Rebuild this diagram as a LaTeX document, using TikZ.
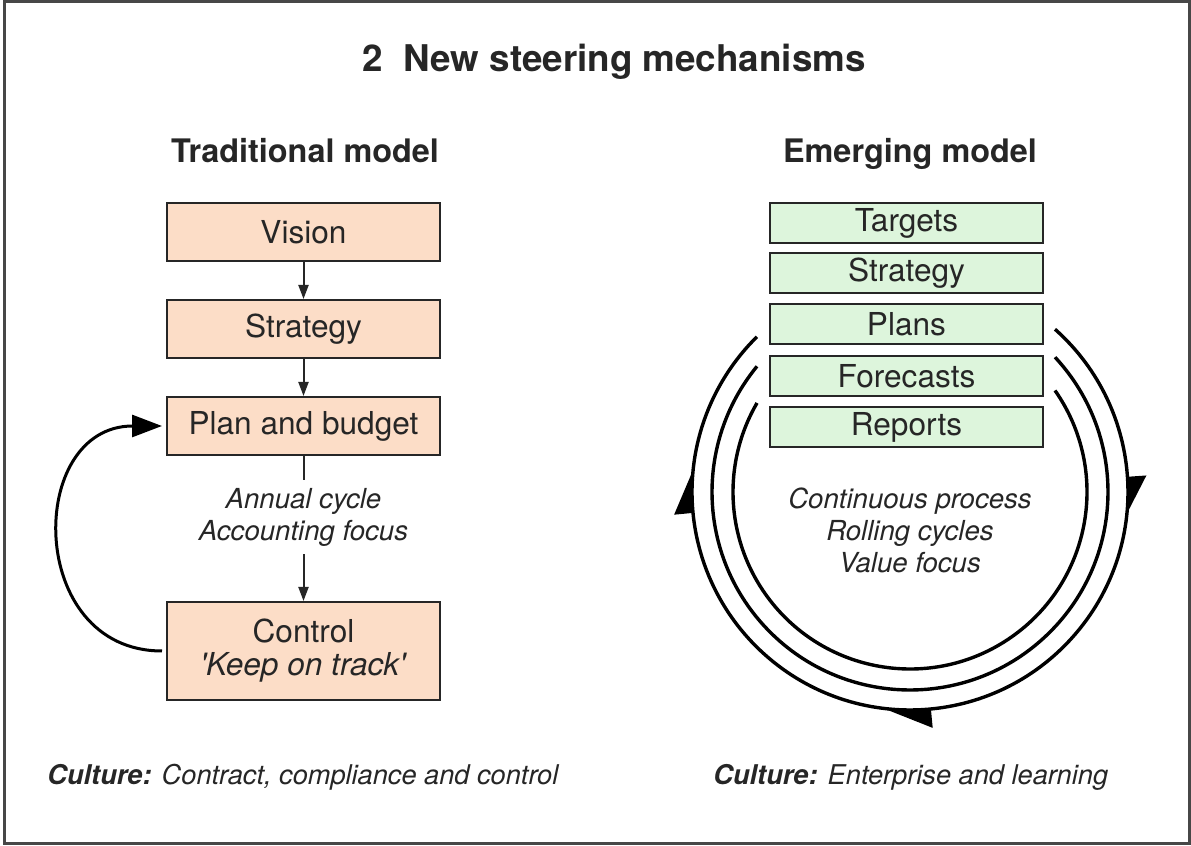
\documentclass[tikz,border=0pt]{standalone}
\usepackage{fontspec}
\setmainfont{TeX Gyre Heros}
\usetikzlibrary{arrows.meta}
\usepackage{xcolor}
\definecolor{peach}{HTML}{FCDDC7}
\definecolor{mint}{HTML}{DDF5DC}
\definecolor{ink}{HTML}{262626}

\begin{document}
\begin{tikzpicture}[x=0.5pt, y=0.5pt,
  oldbox/.style={draw=ink, line width=1pt, fill=peach, minimum width=136.5pt, minimum height=29pt, inner sep=0pt, text=ink, font=\fontsize{15.8}{17}\selectfont},
  newbox/.style={draw=ink, line width=1pt, fill=mint, minimum width=136.5pt, minimum height=20pt, inner sep=0pt, text=ink, font=\fontsize{15.8}{17}\selectfont},
  note/.style={align=center, inner sep=0pt, text=ink, font=\fontsize{13.8}{16}\selectfont\itshape},
  heading/.style={anchor=base, text=ink, font=\fontsize{16.2}{18}\selectfont\bfseries},
  culture/.style={anchor=base west, inner sep=0pt, text=ink, font=\fontsize{13.6}{16}\selectfont\itshape},
  flow/.style={-{Triangle[length=7pt,width=5pt]}, line width=1pt, ink},
  loopline/.style={line width=1.7pt, black}
]

\useasboundingbox (0,0) rectangle (1191,846);
\draw[line width=1.5pt, ink!85] (4.5,2) rectangle (1189,844);

\node[anchor=base, text=ink, font=\fontsize{18.4}{20}\selectfont\bfseries] (title) at (614,774) {2~~New steering mechanisms};

% traditional model
\node[heading] (trad) at (305,683) {Traditional model};
\node[oldbox] (vision) at (303.5,614) {Vision};
\node[oldbox] (strat) at (303.5,517) {Strategy};
\node[oldbox] (plan) at (303.5,420) {Plan and budget};
\node[note, minimum height=37pt] (cycle) at (303.5,329) {Annual cycle\\Accounting focus};
\node[oldbox, minimum height=49pt, align=center, font=\fontsize{15.8}{16.5}\selectfont] (ctrl) at (303.5,195)
  {Control\\\textit{\textquotesingle Keep on track\textquotesingle}};

\draw[flow] (vision) -- (strat);
\draw[flow] (strat) -- (plan);
\draw[line width=1pt, ink] (plan) -- (cycle);
\draw[flow] (cycle) -- (ctrl);
\draw[line width=1.5pt, -{Triangle[length=15pt,width=11pt]}, shorten <=2pt, shorten >=2pt]
  (ctrl.west) to[out=180, in=180, looseness=1.6] (plan.west);

\node[culture] (cultL) at (47,61) {\textbf{Culture:} Contract, compliance and control};

% emerging model
\node[heading] (emerg) at (910,683) {Emerging model};
\node[newbox] (targets) at (906.5,623) {Targets};
\node[newbox] (strat2) at (906.5,572.5) {Strategy};
\node[newbox] (plans) at (906.5,521.5) {Plans};
\node[newbox] (fcast) at (906.5,470) {Forecasts};
\node[newbox] (reports) at (906.5,419) {Reports};
\node[note] (proc) at (910,316) {Continuous process\\Rolling cycles\\Value focus};

\begin{scope}[shift={(910,354)}]
  \foreach \r/\a/\b in {218/48.3/-225.4, 198/42.9/-219.4, 177/35/-210.2}
    \draw[loopline] (\a:\r) arc[start angle=\a, end angle=\b, radius=\r];
  \fill (4:219) -- (4:237) -- (-5:219) -- cycle;
  \fill (275.5:219) -- (275.5:237) -- (264:219) -- cycle;
  \fill (185.5:219) -- (185.5:237) -- (175:219) -- cycle;
\end{scope}

\node[culture] (cultR) at (713,61) {\textbf{Culture:} Enterprise and learning};

\end{tikzpicture}
\end{document}
